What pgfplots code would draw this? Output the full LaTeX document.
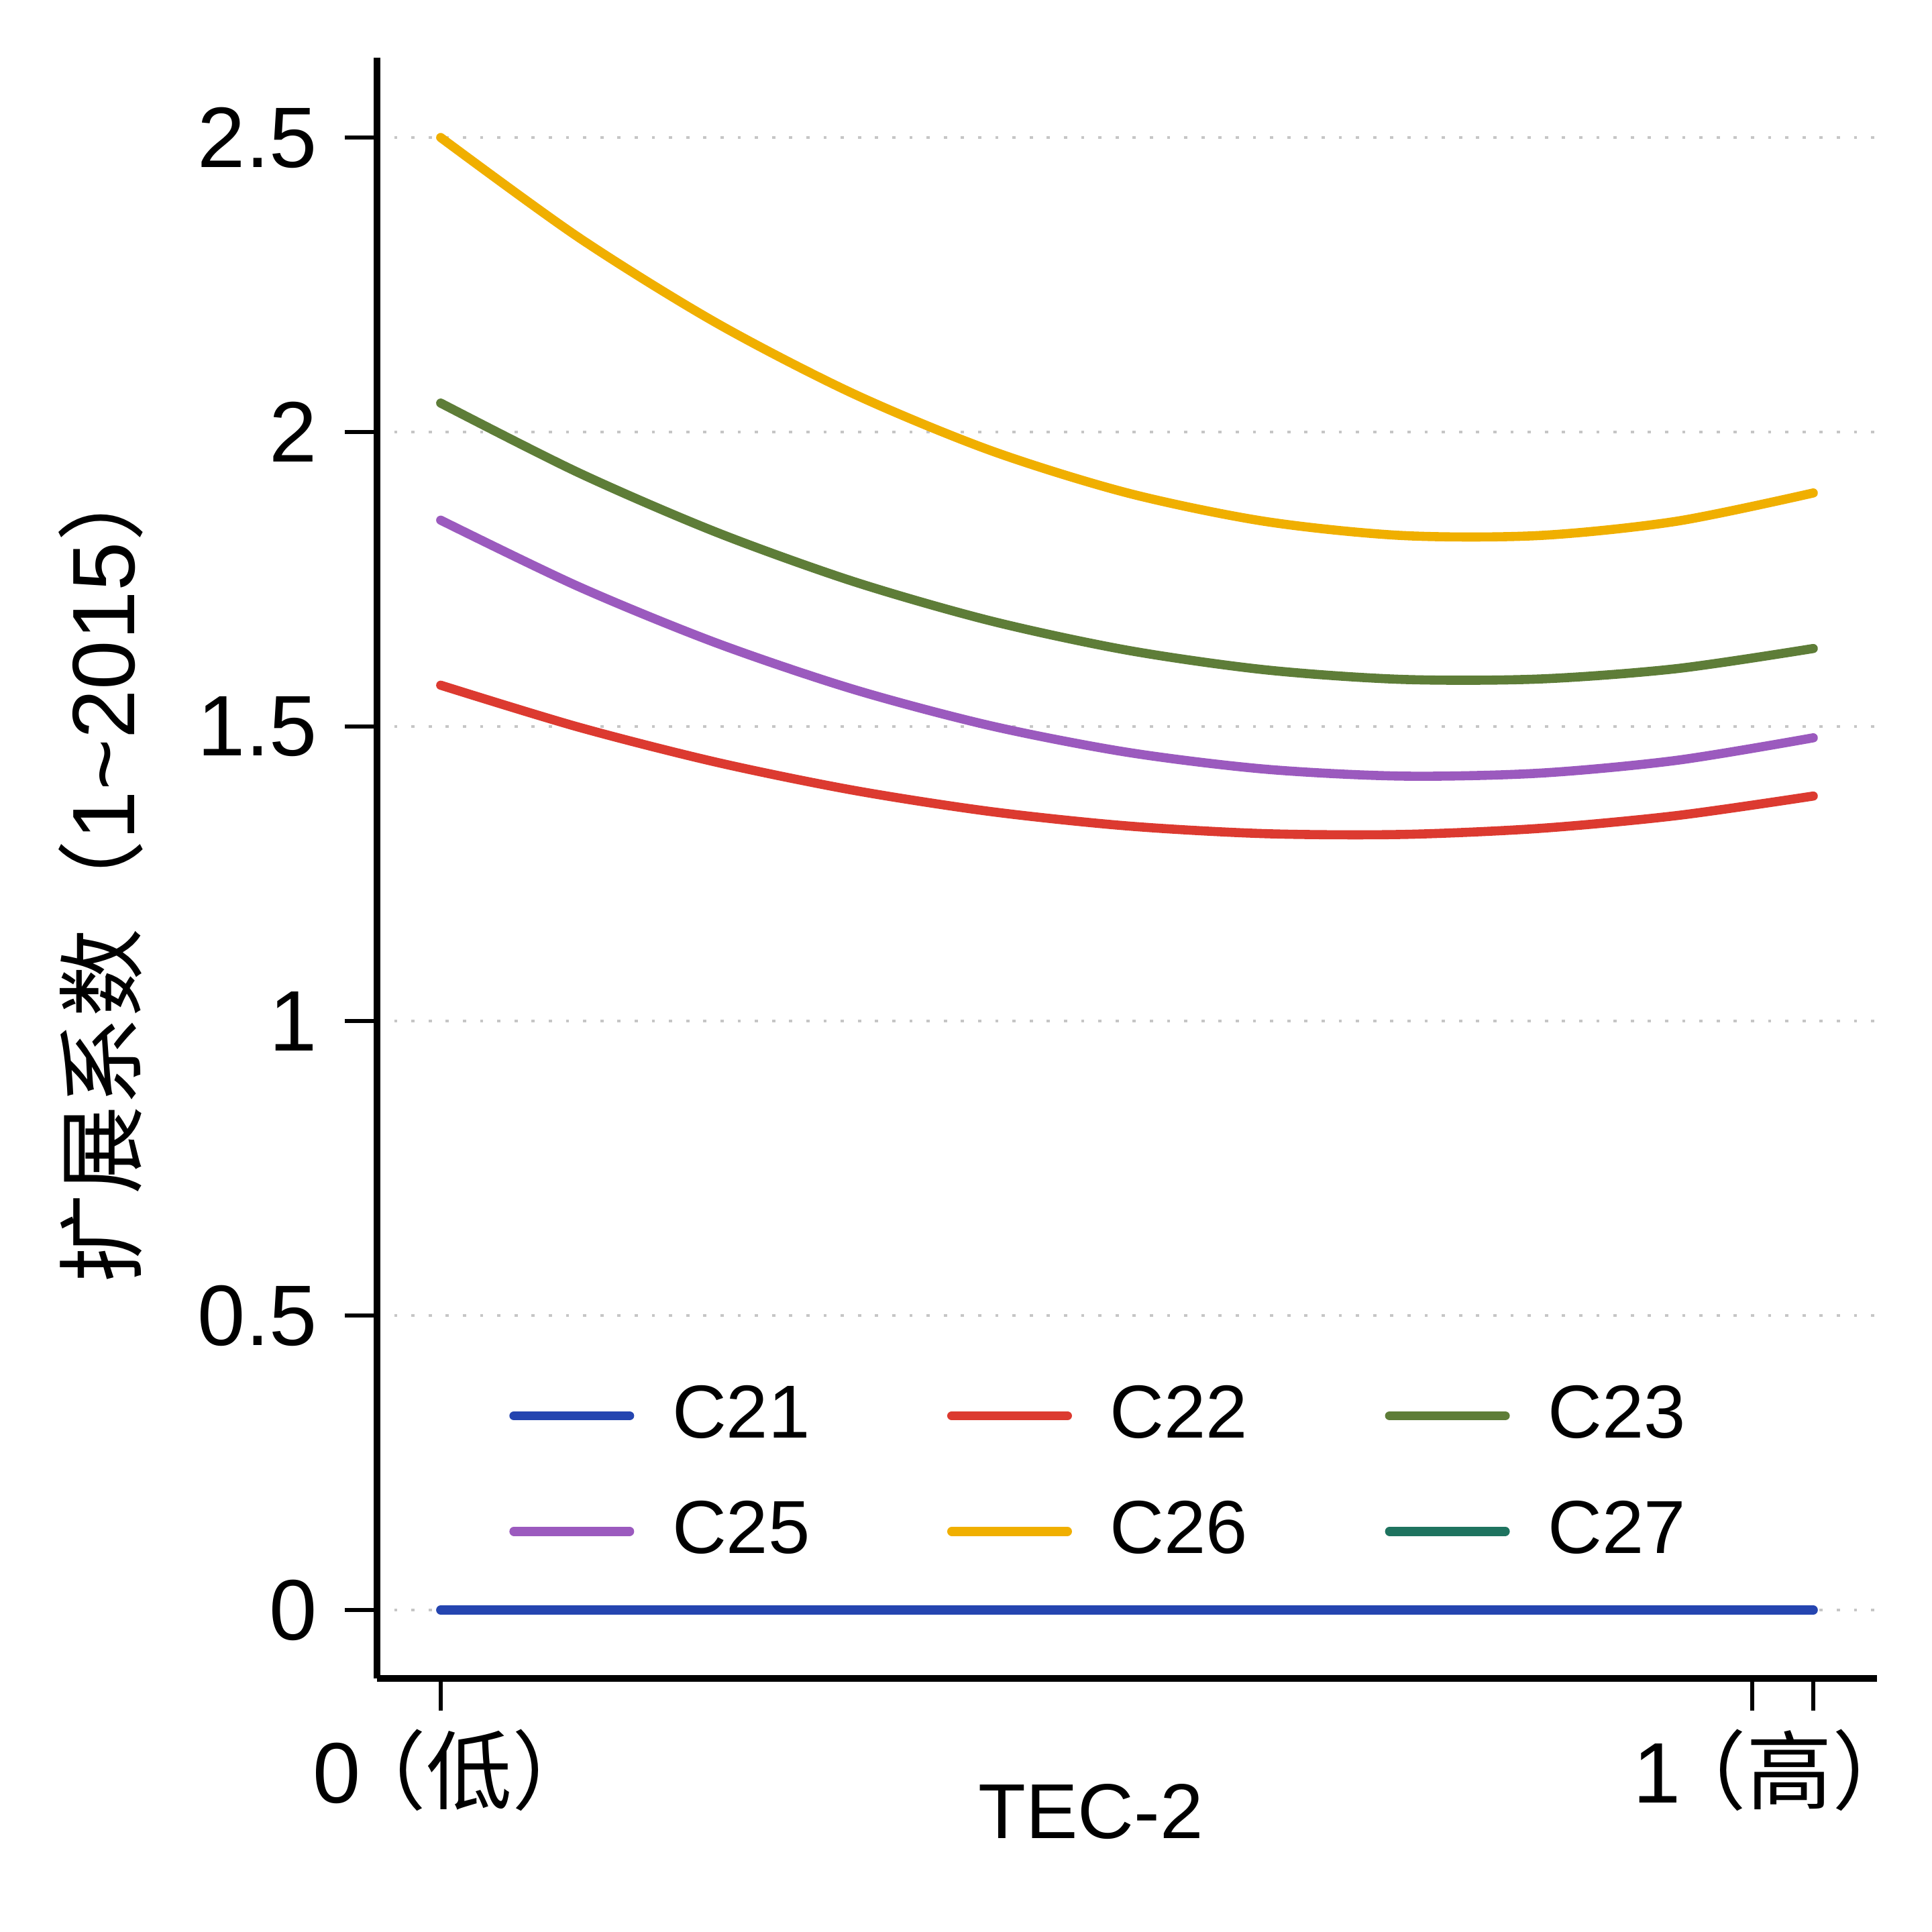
\documentclass[border=0pt]{standalone}
\usepackage{fontspec}
\setmainfont{Liberation Sans}
\newfontfamily\cjk{Noto Sans CJK SC}
\newfontfamily\cjkh{Noto Sans CJK SC}[RawFeature=+halt]
\usepackage{pgfplots}
\pgfplotsset{compat=1.18}
\definecolor{c21}{HTML}{2545B0}
\definecolor{c22}{HTML}{DC3A30}
\definecolor{c23}{HTML}{5E7D38}
\definecolor{c25}{HTML}{9B5ABE}
\definecolor{c26}{HTML}{F0AF00}
\definecolor{c27}{HTML}{1E735F}
\begin{document}
\begin{tikzpicture}
\path[use as bounding box] (-70.25pt,-47.25pt) rectangle (289.75pt,312.75pt);
\begin{axis}[
  at={(0,0)}, anchor=south west,
  scale only axis, width=279.5pt, height=302pt,
  xmin=-0.0464, xmax=1.0464, ymin=-0.1162, ymax=2.6355,
  axis x line*=bottom, axis y line*=left,
  axis line style={line width=1.2pt},
  xtick={0,0.9555,1},
  xticklabels={{0\kern4.2pt{\cjkh （低）}},{\kern3.2pt 1\kern4.2pt{\cjkh （高）}},{}},
  ytick={0,0.5,1,1.5,2,2.5},
  tick align=outside, major tick length=6pt,
  tick style={line width=0.75pt, black},
  /pgf/number format/assume math mode=true,
  yticklabel style={font=\fontsize{16}{18}\selectfont, xshift=-1.6pt},
  xticklabel style={font=\fontsize{16}{18}\selectfont, xshift=-1.2pt},
  ymajorgrids,
  grid style={gray!45, line width=0.6pt, dash pattern=on 0.6pt off 2.6pt},
  xlabel={TEC-2},
  xlabel style={at={(axis description cs:0.476,-0.082)}, anchor=center, font=\fontsize{14.5}{16}\selectfont},
  ylabel={{\cjk 扩展系数（}1\textasciitilde 2015{\cjk ）}},
  ylabel style={at={(axis description cs:-0.1843,0.5)}, anchor=center, font=\fontsize{16.5}{18}\selectfont},
  legend columns=3,
  legend cell align=left,
  legend image code/.code={\draw[#1] (0.85pt,0pt) -- (22.4pt,0pt); \path (0pt,0pt) (29.5pt,0pt);},
  legend style={draw=none, fill=none, inner sep=0pt,
    at={(axis description cs:0.0845,0.1264)}, anchor=west,
    font=\fontsize{14}{16}\selectfont,
    nodes={inner sep=0pt},
    row sep=10.25pt,
    /tikz/every even column/.append style={column sep=24.7pt}},
  every axis plot/.append style={line width=1.7pt, line cap=round},
]
\addplot[c21] coordinates {(0,0) (0.5,0) (1,0)};
\addlegendentry{C21}
\addplot[c22, smooth] coordinates {(0,1.5701) (0.1,1.4992) (0.2,1.4398) (0.3,1.3920) (0.4,1.3558) (0.5,1.3312) (0.6,1.3181) (0.7,1.3167) (0.8,1.3269) (0.9,1.3486) (1,1.3819)};
\addlegendentry{C22}
\addplot[c23, smooth] coordinates {(0,2.0491) (0.1,1.9314) (0.2,1.8306) (0.3,1.7467) (0.4,1.6797) (0.5,1.6296) (0.6,1.5964) (0.7,1.5800) (0.8,1.5806) (0.9,1.5981) (1,1.6324)};
\addlegendentry{C23}
\addplot[c25, smooth] coordinates {(0,1.8503) (0.1,1.7380) (0.2,1.6425) (0.3,1.5636) (0.4,1.5016) (0.5,1.4563) (0.6,1.4277) (0.7,1.4158) (0.8,1.4207) (0.9,1.4424) (1,1.4808)};
\addlegendentry{C25}
\addplot[c26, smooth] coordinates {(0,2.5) (0.1,2.3311) (0.2,2.1863) (0.3,2.0657) (0.4,1.9691) (0.5,1.8967) (0.6,1.8484) (0.7,1.8243) (0.8,1.8242) (0.9,1.8483) (1,1.8965)};
\addlegendentry{C26}
\addlegendimage{c27, line width=1.7pt}
\addlegendentry{C27}
\end{axis}
\end{tikzpicture}
\end{document}
